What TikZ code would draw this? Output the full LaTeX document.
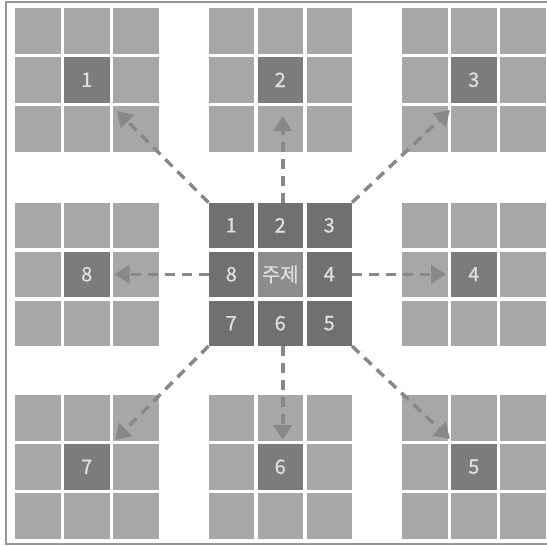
\documentclass[tikz,border=0pt]{standalone}
\usepackage{fontspec}
\setmainfont{Noto Sans CJK KR}
\newfontfamily\labelfont[FakeBold=0.8]{Noto Sans CJK KR}
\usetikzlibrary{arrows.meta,calc}
\definecolor{cellgray}{RGB}{166,167,169}
\definecolor{markgray}{RGB}{124,124,126}
\definecolor{coregray}{RGB}{112,112,114}
\definecolor{themegray}{RGB}{140,140,142}
\definecolor{arrowgray}{RGB}{136,136,138}
\definecolor{framegray}{RGB}{150,150,152}
\definecolor{labelgray}{RGB}{222,222,222}
\tikzset{
  cell/.style={fill=cellgray, minimum size=45.5pt, inner sep=0pt, outer sep=0pt},
  markcell/.style={cell, fill=markgray, text=labelgray, font=\labelfont\fontsize{20}{20}\selectfont},
  corecell/.style={cell, fill=coregray, text=labelgray, font=\labelfont\fontsize{20}{20}\selectfont},
  themecell/.style={corecell, fill=themegray},
  link/.style={draw=arrowgray, line width=3.5pt, dash pattern=on 10pt off 7pt,
    -{Triangle[length=15pt,width=18pt]}},
  frameline/.style={draw=framegray, line width=2pt},
}
\begin{document}
\begin{tikzpicture}[x=1pt,y=-1pt]
\useasboundingbox (0,0) rectangle (547,547);
\fill[white] (0,0) rectangle (547,547);
\draw[frameline] (547,2) -- (6,2) -- (6,544) -- (547,544);
% outer blocks
\foreach \k/\bx/\by in {1/15/8, 2/208.5/8, 3/402/8, 8/15/202.5, 4/402/202.5, 7/15/395, 6/208.5/395, 5/402/395} {
  \foreach \r in {0,1,2} {
    \foreach \c in {0,1,2} {
      \ifnum\r\c=11
        \node[markcell] (b\k-\r\c) at (\bx+22.75+49*\c, \by+22.75+49*\r) {\k};
      \else
        \node[cell] (b\k-\r\c) at (\bx+22.75+49*\c, \by+22.75+49*\r) {};
      \fi
    }
  }
}
% central block
\foreach \r/\c/\t in {0/0/1, 0/1/2, 0/2/3, 1/0/8, 1/2/4, 2/0/7, 2/1/6, 2/2/5} {
  \node[corecell] (m-\r\c) at (208.5+22.75+49*\c, 202.5+22.75+49*\r) {\t};
}
\node[themecell] (m-11) at (208.5+22.75+49, 202.5+22.75+49) {주제};
% connectors
\draw[link] (m-00.north west) -- ($(b1-22.north west)+(4,5)$);
\draw[link] ($(m-01.north)+(2.5,0)$) -- ($(b2-21.north)+(2.5,10)$);
\draw[link] (m-02.north east) -- ($(b3-20.north east)+(2.5,4)$);
\draw[link] (m-12.east) -- ($(b4-11.west)+(-5,0)$);
\draw[link] (m-22.south east) -- ($(b5-11.north west)+(-1,-5)$);
\draw[link] ($(m-21.south)+(2.5,0)$) -- ($(b6-11.north)+(2.5,-4)$);
\draw[link] (m-20.south west) -- ($(b7-12.north west)+(2,-4)$);
\draw[link] (m-10.west) -- ($(b8-11.east)+(5,0)$);
\end{tikzpicture}
\end{document}
